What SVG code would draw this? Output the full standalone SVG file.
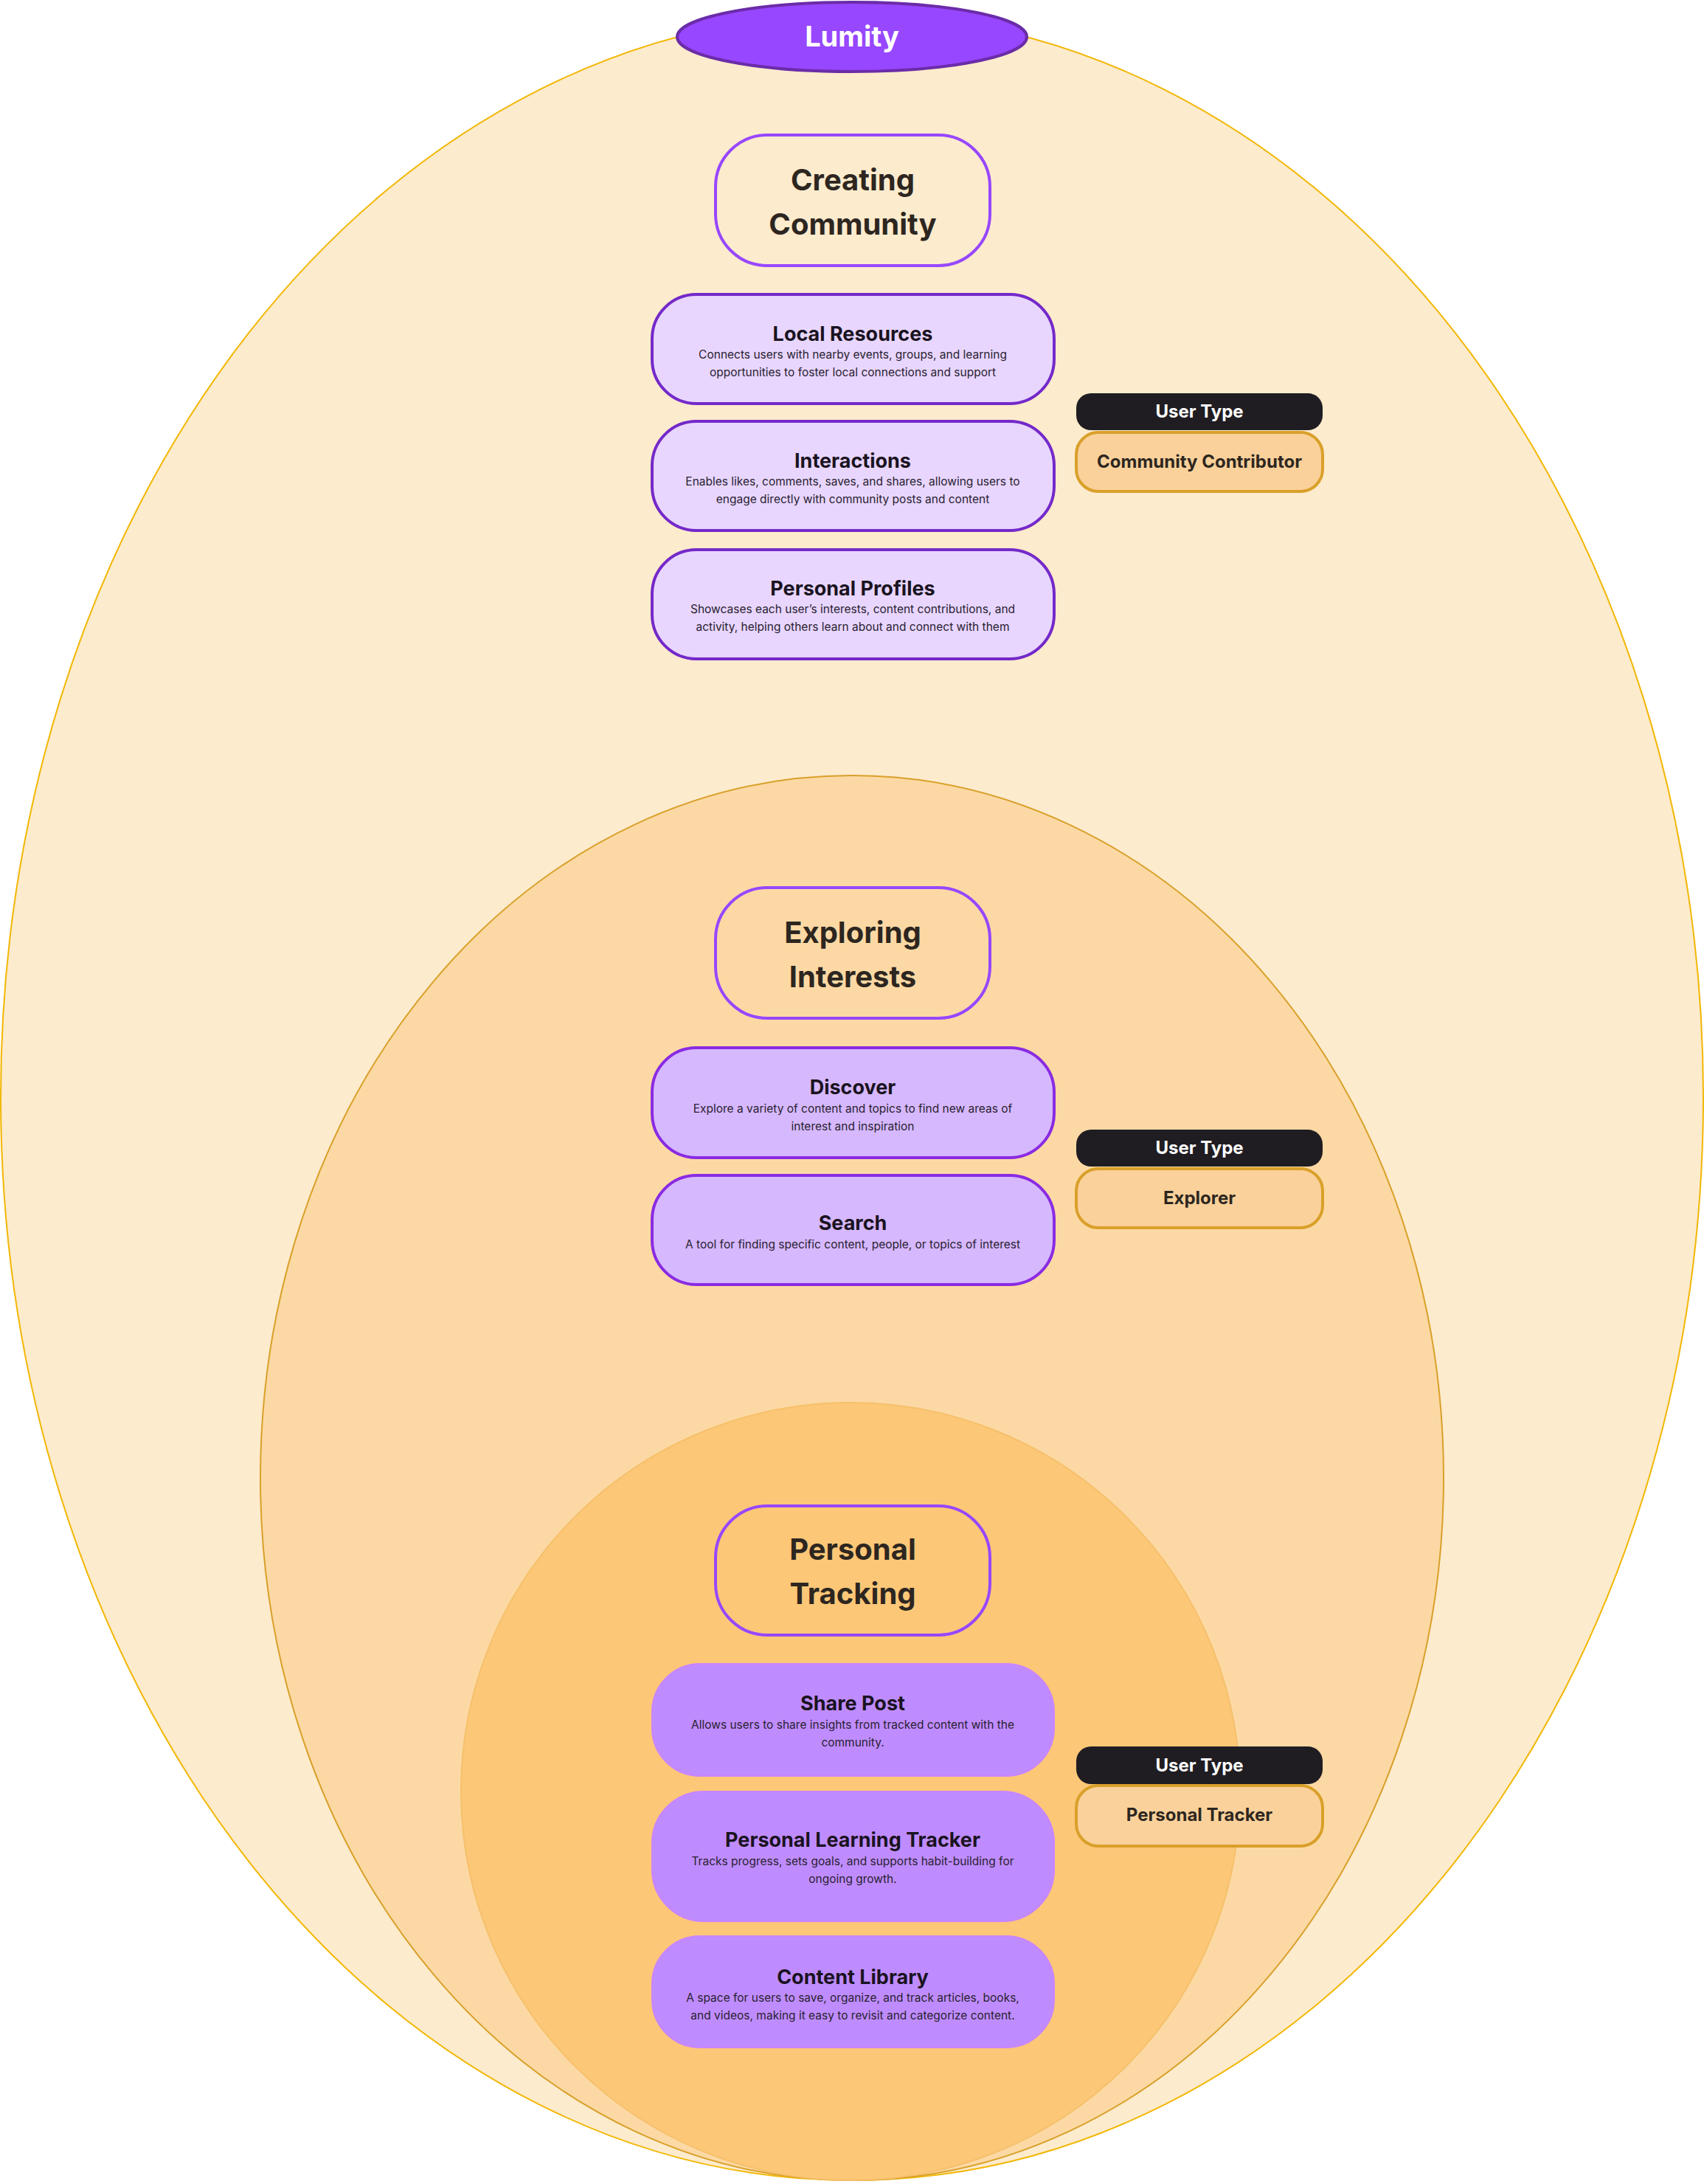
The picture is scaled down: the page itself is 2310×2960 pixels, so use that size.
<svg xmlns="http://www.w3.org/2000/svg" width="2310" height="2960" viewBox="0 0 2310 2960">
<style>
text{font-family:Inter,"Liberation Sans",sans-serif;text-anchor:middle}
.h{font-size:40px;font-weight:700;fill:#2d2620}
.t{font-size:27px;font-weight:700;fill:#1a1320}
.d{font-size:15.5px;fill:#2a2230}
.ut{font-size:24px;font-weight:700;fill:#fff}
.uv{font-size:24px;font-weight:700;fill:#2d2620}
.sec{fill:none;stroke:#9747FF;stroke-width:4}
.b1{fill:#E8D6FF;stroke:#7429C9;stroke-width:4}
.b2{fill:#D6B8FF;stroke:#8A2BE2;stroke-width:4}
.b3{fill:#BF8CFF;stroke:#C985FF;stroke-width:2}
.blk{fill:#1F1D22}
.org{fill:#FAD19A;stroke:#D9A02A;stroke-width:4}
</style>
<g id="rings">
<ellipse cx="1155" cy="1487" rx="1154" ry="1468" fill="#FDEBCD" stroke="#F2B705" stroke-width="2"/>
<ellipse cx="1155" cy="2003" rx="802" ry="952" fill="#FCD9A4" stroke="#D9A02A" stroke-width="2"/>
<ellipse cx="1153" cy="2428" rx="528" ry="527" fill="#FCC777" stroke="#F6C06C" stroke-width="2"/>
</g>
<g id="lumity">
<ellipse cx="1155" cy="50" rx="237" ry="47" fill="#9747FF" stroke="#6B2CA8" stroke-width="4"/>
<text x="1155" y="63" style="font-size:38px;font-weight:700;fill:#fff">Lumity</text>
</g>
<g id="creating-community">
<rect x="970" y="183" width="372" height="177" rx="70" class="sec"/>
<text class="h" x="1156" y="258">Creating</text>
<text class="h" x="1156" y="318">Community</text>
</g>
<g id="local-resources">
<rect x="884" y="399" width="545" height="148" rx="60" class="b1"/>
<text class="t" x="1156" y="462">Local Resources</text>
<text class="d" x="1156" y="486">Connects users with nearby events, groups, and learning</text>
<text class="d" x="1156" y="510">opportunities to foster local connections and support</text>
</g>
<g id="interactions">
<rect x="884" y="571" width="545" height="148" rx="60" class="b1"/>
<text class="t" x="1156" y="634">Interactions</text>
<text class="d" x="1156" y="658">Enables likes, comments, saves, and shares, allowing users to</text>
<text class="d" x="1156" y="682">engage directly with community posts and content</text>
</g>
<g id="personal-profiles">
<rect x="884" y="745" width="545" height="148" rx="60" class="b1"/>
<text class="t" x="1156" y="807">Personal Profiles</text>
<text class="d" x="1156" y="831">Showcases each user’s interests, content contributions, and</text>
<text class="d" x="1156" y="855">activity, helping others learn about and connect with them</text>
</g>
<g id="user-type-1">
<rect x="1459" y="533" width="334" height="50" rx="20" class="blk"/>
<text class="ut" x="1626" y="566">User Type</text>
<rect x="1459" y="586" width="334" height="80" rx="30" class="org"/>
<text class="uv" x="1626" y="634">Community Contributor</text>
</g>
<g id="exploring-interests">
<rect x="970" y="1203" width="372" height="177" rx="70" class="sec"/>
<text class="h" x="1156" y="1278">Exploring</text>
<text class="h" x="1156" y="1338">Interests</text>
</g>
<g id="discover">
<rect x="884" y="1420" width="545" height="149" rx="60" class="b2"/>
<text class="t" x="1156" y="1483">Discover</text>
<text class="d" x="1156" y="1508">Explore a variety of content and topics to find new areas of</text>
<text class="d" x="1156" y="1532">interest and inspiration</text>
</g>
<g id="search">
<rect x="884" y="1593" width="545" height="148" rx="60" class="b2"/>
<text class="t" x="1156" y="1667">Search</text>
<text class="d" x="1156" y="1692">A tool for finding specific content, people, or topics of interest</text>
</g>
<g id="user-type-2">
<rect x="1459" y="1531" width="334" height="50" rx="20" class="blk"/>
<text class="ut" x="1626" y="1564">User Type</text>
<rect x="1459" y="1584" width="334" height="80" rx="30" class="org"/>
<text class="uv" x="1626" y="1632">Explorer</text>
</g>
<g id="personal-tracking">
<rect x="970" y="2041" width="372" height="175" rx="70" class="sec"/>
<text class="h" x="1156" y="2114">Personal</text>
<text class="h" x="1156" y="2174">Tracking</text>
</g>
<g id="share-post">
<rect x="884" y="2255" width="545" height="152" rx="65" class="b3"/>
<text class="t" x="1156" y="2318">Share Post</text>
<text class="d" x="1156" y="2343">Allows users to share insights from tracked content with the</text>
<text class="d" x="1156" y="2367">community.</text>
</g>
<g id="personal-learning-tracker">
<rect x="884" y="2428" width="545" height="176" rx="70" class="b3"/>
<text class="t" x="1156" y="2503">Personal Learning Tracker</text>
<text class="d" x="1156" y="2528">Tracks progress, sets goals, and supports habit-building for</text>
<text class="d" x="1156" y="2552">ongoing growth.</text>
</g>
<g id="content-library">
<rect x="884" y="2624" width="545" height="151" rx="65" class="b3"/>
<text class="t" x="1156" y="2689">Content Library</text>
<text class="d" x="1156" y="2713">A space for users to save, organize, and track articles, books,</text>
<text class="d" x="1156" y="2737">and videos, making it easy to revisit and categorize content.</text>
</g>
<g id="user-type-3">
<rect x="1459" y="2367" width="334" height="51" rx="20" class="blk"/>
<text class="ut" x="1626" y="2401">User Type</text>
<rect x="1459" y="2420" width="334" height="82" rx="30" class="org"/>
<text class="uv" x="1626" y="2468">Personal Tracker</text>
</g>
<g id="connectors"/>
</svg>
